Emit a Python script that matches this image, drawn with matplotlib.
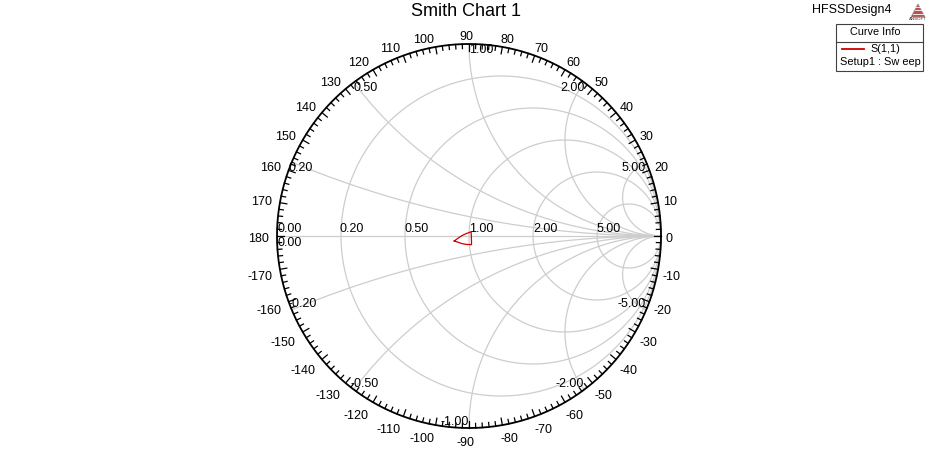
import numpy as np
import matplotlib
matplotlib.use('Agg')
import matplotlib.pyplot as plt
from matplotlib.patches import Rectangle, Polygon
from matplotlib.lines import Line2D

plt.rcParams['font.family'] = ['Liberation Sans', 'DejaVu Sans']

# ---------------- data ----------------
title = "Smith Chart 1"
design_name = "HFSSDesign4"
legend_header = "Curve Info"
trace_name = "S(1,1)"
trace_setup = "Setup1 : Sw eep"
r_values = [0.2, 0.5, 1.0, 2.0, 5.0]
x_values = [0.2, 0.5, 1.0, 2.0, 5.0]
r_labels = ["0.20", "0.50", "1.00", "2.00", "5.00"]
angle_labels = list(range(-170, 190, 10))
# S(1,1) reflection coefficient (real / imaginary)
s11_re = [-0.077, -0.055, -0.035, -0.018, 0.000, 0.011, 0.012, 0.013, 0.013, -0.012, -0.035, -0.077]
s11_im = [-0.026, -0.010, 0.003, 0.011, 0.018, 0.022, 0.000, -0.025, -0.045, -0.044, -0.040, -0.026]

# ---------------- layout ----------------
W, H = 937, 453
cx, cy, R = 469, 236, 192
fig = plt.figure(figsize=(W / 100, H / 100), dpi=100)
ax = fig.add_axes([0, 0, 1, 1])
ax.set_xlim(-cx / R, (W - cx) / R)
ax.set_ylim(-(H - cy) / R, cy / R)
ax.axis('off')

grid_c = '#cdcdcd'
fs = 9
PT = 0.72  # points per pixel

# horizontal axis
ax.plot([-1, 1], [0, 0], color=grid_c, lw=0.9, zorder=1)

# resistance circles
t = np.linspace(0, 2 * np.pi, 600)
for r in r_values:
    c = r / (1 + r)
    rad = 1 / (1 + r)
    ax.plot(c + rad * np.cos(t), rad * np.sin(t), color=grid_c, lw=0.9, zorder=1)

# reactance arcs
rr = np.concatenate([[0], np.logspace(-4, 5, 800)])
for x in x_values:
    for s in (1, -1):
        z = rr + 1j * s * x
        g = (z - 1) / (z + 1)
        ax.plot(g.real, g.imag, color=grid_c, lw=0.9, zorder=1)

# outer boundary
ax.plot(np.cos(t), np.sin(t), color='black', lw=1.3, zorder=3)

# ticks every 2 degrees
for d in range(0, 360, 2):
    a = np.deg2rad(d)
    L = 7 if d % 10 == 0 else 4.5
    r1 = 1.0 - L / R
    ax.plot([np.cos(a), r1 * np.cos(a)], [np.sin(a), r1 * np.sin(a)],
            color='black', lw=0.9, zorder=3)

# angle labels
for d in angle_labels:
    a = np.deg2rad(d)
    c, s = np.cos(a), np.sin(a)
    px = 200 * c
    py = 200 * s
    if abs(c) < 0.01:
        ha, dx = 'center', -3
    elif c < 0:
        ha, dx = 'right', 0
    else:
        ha, dx = 'left', -3
    if abs(s) < 0.01:
        dy = -1
    elif s > 0:
        dy = 1
    else:
        dy = -5
    ax.annotate(str(d), xy=(px / R, py / R), xytext=(dx * PT, dy * PT),
                textcoords='offset points', ha=ha, va='center_baseline', fontsize=fs)

# resistance labels
for r, lab in zip(r_values, r_labels):
    g = (r - 1) / (r + 1)
    dx = -2 if g < -0.5 else 0
    ax.annotate(lab, xy=(g, 0), xytext=(dx * PT, 0.8), textcoords='offset points',
                ha='left', va='bottom', fontsize=fs, zorder=4)
ax.annotate("0.00", xy=(-1, 0), xytext=(0, 0.8), textcoords='offset points',
            ha='left', va='bottom', fontsize=fs, zorder=4)
ax.annotate("0.00", xy=(-1, 0), xytext=(0, -0.5), textcoords='offset points',
            ha='left', va='top', fontsize=fs, zorder=4)

# reactance labels
for x, lab in zip(x_values, r_labels):
    for s in (1, -1):
        z = 1j * s * x
        g = (z - 1) / (z + 1)
        if s > 0:
            ha = 'left' if (g.real < 0 or x == 1.0) else 'right'
            va = 'top'
            txt = lab
            dx = -3 if g.real < -0.8 else 0
        else:
            ha = 'left' if g.real < 0 else 'right'
            va = 'bottom'
            txt = '-' + lab
            dx = -3 if g.real < -0.1 else 0
        ax.annotate(txt, xy=(g.real, g.imag), xytext=(dx * PT, 0), textcoords='offset points',
                    ha=ha, va=va, fontsize=fs, zorder=4)

# trace
ax.plot(s11_re, s11_im, color='#cc0000', lw=0.9, zorder=5)

# title
fig.text(466 / W, 1 - 11 / H, title, ha='center', va='center', fontsize=13)
fig.text(812 / W, 1 - 10 / H, design_name, ha='left', va='center', fontsize=9)


def fx(px):
    return px / W


def fy(py):
    return 1 - py / H


# logo
tri = Polygon([[fx(911), fy(17)], [fx(925), fy(17)], [fx(918), fy(4)]], closed=True,
              transform=fig.transFigure, facecolor='#c05050', edgecolor='#909090', lw=0.5)
fig.patches.append(tri)
for k in range(1, 4):
    yy = 4 + k * 3.2
    half = (yy - 4) * 7 / 13
    fig.lines.append(Line2D([fx(918 - half), fx(918 + half)], [fy(yy), fy(yy)],
                            transform=fig.transFigure, color='white', lw=0.6))
fig.text(fx(918), fy(19), "ANSOFT", ha='center', va='center', fontsize=3.2, color='#303030')

# legend box
box = Rectangle((fx(836), fy(71)), (923 - 836) / W, (71 - 24) / H, transform=fig.transFigure,
                facecolor='white', edgecolor='#404040', lw=0.8)
fig.patches.append(box)
fig.lines.append(Line2D([fx(836), fx(923)], [fy(42), fy(42)], transform=fig.transFigure,
                        color='#404040', lw=0.8))
fig.text(fx(875), fy(32), legend_header, ha='center', va='center', fontsize=7.8)
fig.lines.append(Line2D([fx(842), fx(864)], [fy(49), fy(49)], transform=fig.transFigure,
                        color='#cc0000', lw=1.3))
fig.text(fx(870), fy(49), trace_name, ha='left', va='center', fontsize=7.8)
fig.text(fx(880.5), fy(62), trace_setup, ha='center', va='center', fontsize=7.9)

fig.savefig('out.png', dpi=100, facecolor='white')
